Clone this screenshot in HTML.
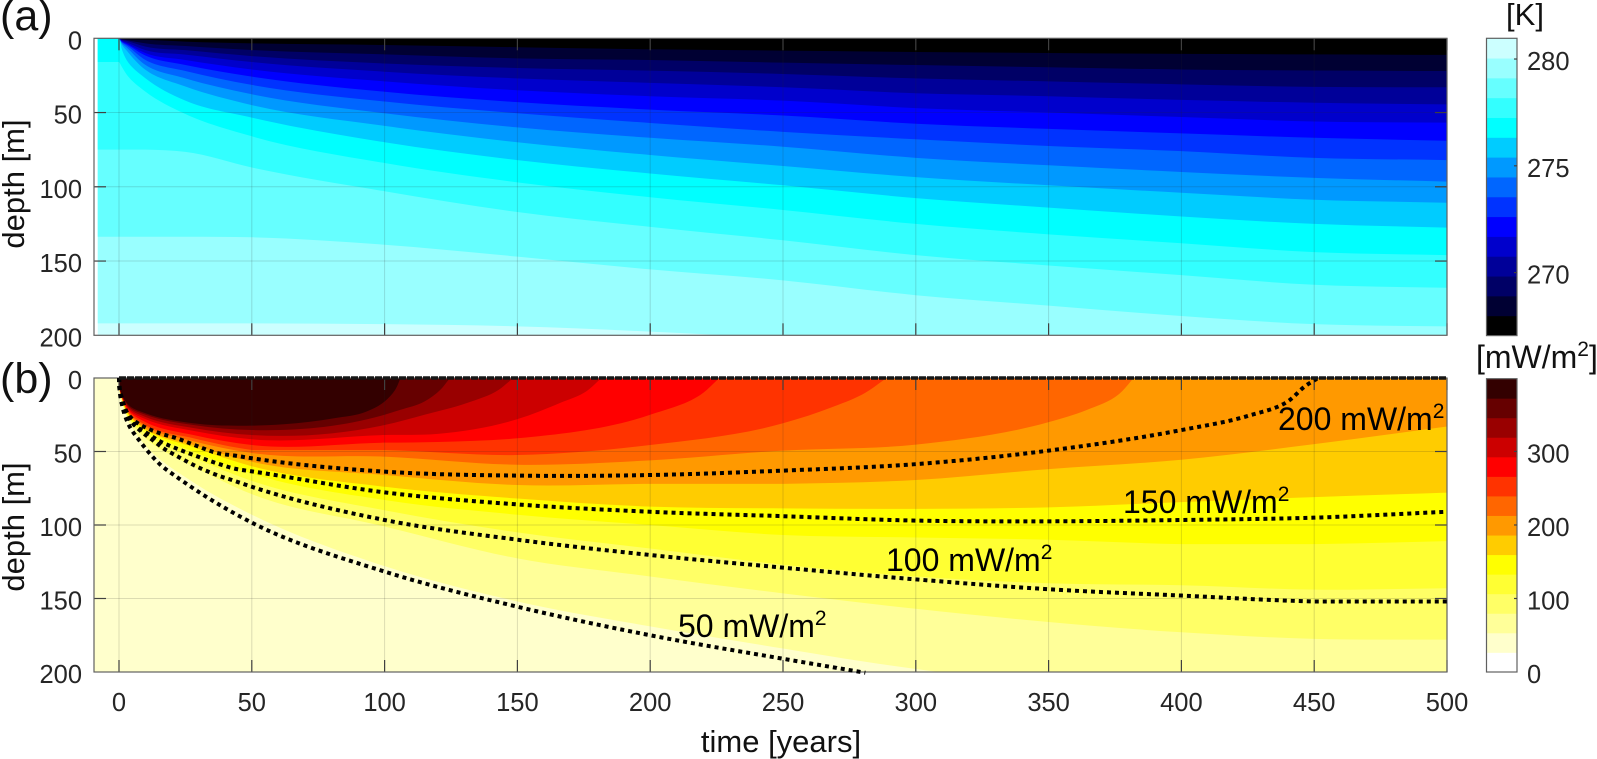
<!DOCTYPE html>
<html lang="en">
<head>
<meta charset="utf-8">
<title>Temperature and heat flux versus time and depth</title>
<style>
html,body{margin:0;padding:0;background:#fff;width:1597px;height:759px;overflow:hidden}
svg{display:block}
text{font-family:"Liberation Sans",Arial,sans-serif}
</style>
</head>
<body>
<svg id="figure" xmlns="http://www.w3.org/2000/svg" width="1597" height="759" viewBox="0 0 1597 759">
<defs>
<clipPath id="clip-a"><rect x="94" y="38.3" width="1353" height="297"/></clipPath>
<clipPath id="clip-b"><rect x="94" y="378" width="1353" height="294"/></clipPath>
</defs>
<g id="layer-a"></g>
<g id="layer-b"></g>
<g id="layer-cb"></g>
<text x="0" y="30" font-size="43" fill="#111">(a)</text>
<text x="0" y="393" font-size="43" fill="#111">(b)</text>
<text transform="translate(24,184) rotate(-90)" text-anchor="middle" font-size="31" fill="#111">depth [m]</text>
<text transform="translate(24,527) rotate(-90)" text-anchor="middle" font-size="31" fill="#111">depth [m]</text>
<text x="781" y="752" text-anchor="middle" font-size="31" fill="#111">time [years]</text>
<text x="1525" y="25" text-anchor="middle" font-size="31" fill="#111">[K]</text>
<text x="1476" y="368" font-size="32" fill="#111">[mW/m<tspan dy="-12" font-size="21">2</tspan><tspan dy="12">]</tspan></text>
<text x="678" y="637" font-size="32" fill="#000">50 mW/m<tspan dy="-12" font-size="21">2</tspan></text>
<text x="886" y="571" font-size="32" fill="#000">100 mW/m<tspan dy="-12" font-size="21">2</tspan></text>
<text x="1123" y="513" font-size="32" fill="#000">150 mW/m<tspan dy="-12" font-size="21">2</tspan></text>
<text x="1278" y="430" font-size="32" fill="#000">200 mW/m<tspan dy="-12" font-size="21">2</tspan></text>
</svg>
<script>
// ---- axis ticks ----
const xTicks = [0, 50, 100, 150, 200, 250, 300, 350, 400, 450, 500];
const yTicks = [0, 50, 100, 150, 200];
const tempBarTicks = [270, 275, 280];
const fluxBarTicks = [0, 100, 200, 300];
const tempBarLimits = [267.05, 280.97];
const fluxBarLimits = [0, 399];

// ---- panel (a): temperature band colours, warmest to coldest ----
const tempBandColors = ['#99ffff', '#66ffff', '#33ffff', '#00ffff', '#00ccff', '#0099ff', '#0066ff', '#0033ff', '#0000ff', '#0000cc', '#000099', '#000066', '#000033', '#000000'];
const tempBaseColor = '#ccffff';
const tempYears = [-8, 0, 1, 3, 10, 25, 50, 100, 150, 200, 250, 300, 350, 400, 450, 500];
// lower-edge depth (m) of each band above, at each year in tempYears
const tempDepths = [
  [192, 192, 192, 192, 192, 192, 192, 192.5, 194, 197.5, 202, 207, 212, 217, 222, 226],
  [133.6, 133.6, 133.6, 133.6, 133.6, 133.6, 134, 139, 147, 155.6, 163, 173, 180, 187, 192.5, 194],
  [75, 75, 75, 75, 75, 76.5, 87, 103, 117, 127, 136, 146, 153, 159.5, 166, 168],
  [16, 16, 19, 24.7, 36, 51, 66, 84, 97, 107, 115.6, 125, 132, 138, 144, 146],
  [0, 0, 7, 15, 27, 42, 53.4, 70, 82, 91, 99, 107.6, 114, 120, 125, 127.5],
  [0, 0, 4, 8.5, 21.3, 32.5, 45, 59, 70, 78.6, 86, 93.5, 99, 104, 108.7, 110.7],
  [0, 0, 3.2, 6.4, 18, 27, 37.7, 50.5, 60, 67, 73, 80.5, 85.5, 90, 94, 96.5],
  [0, 0, 2.6, 5, 14.6, 22, 31.4, 42.6, 50.5, 57, 63, 68, 72.5, 76, 80.5, 82],
  [0, 0, 2.2, 4.2, 11.7, 18, 25.8, 36, 43, 48, 52, 57.5, 61, 64, 67, 69],
  [0, 0, 1.8, 3.6, 10, 14.6, 21, 29, 35, 39, 42, 47, 50, 53, 56, 56.8],
  [0, 0, 1.4, 2.8, 8, 11, 16, 22.5, 27, 30, 33, 37, 39, 41.5, 43.4, 44.5],
  [0, 0, 1, 1.8, 5.6, 8, 12, 17, 20, 21.8, 24, 27, 29, 31, 32.7, 33],
  [0, 0, 0.6, 1.2, 3.4, 5.2, 7.9, 10.8, 13.5, 14.6, 16.4, 18, 19.5, 21, 21.7, 22],
  [0, 0, 0.3, 0.6, 1, 2.2, 3.4, 4.5, 6, 7.4, 8.3, 9.2, 9.9, 10.5, 10.8, 11.2]
];
const tempBarColors = ['#000000', '#000033', '#000066', '#000099', '#0000cc', '#0000ff', '#0033ff', '#0066ff', '#0099ff', '#00ccff', '#00ffff', '#33ffff', '#66ffff', '#99ffff', '#ccffff'];

// ---- panel (b): heat flux band colours, weakest to strongest ----
const fluxBaseColor = '#ffffcc';
const fluxBandColors = ['#ffff99', '#ffff66', '#ffff33', '#ffff00', '#ffcc00', '#ff9900', '#ff6600', '#ff3300', '#ff0000', '#cc0000', '#990000', '#660000', '#330000'];
const fluxBandYears = [
  [0, 0.3, 1, 4, 10, 28, 50, 100, 150, 200, 250, 281, 309, 500],
  [0, 0.3, 1, 4, 10, 28, 50, 100, 150, 200, 250, 300, 350, 400, 450, 500],
  [0, 0.3, 1, 4, 10, 28, 50, 100, 150, 200, 250, 300, 350, 400, 450, 500],
  [0, 0.3, 1, 4, 10, 28, 50, 100, 150, 200, 250, 300, 350, 400, 450, 500],
  [0, 0.3, 1, 4, 10, 28, 50, 100, 150, 200, 250, 300, 350, 400, 450, 500],
  [0, 0.3, 1, 4, 10, 28, 50, 100, 150, 200, 250, 300, 350, 400, 450, 500],
  [0, 0.3, 1, 4, 10, 28, 50, 100, 150, 200, 250, 300, 350, 364, 376.5, 382],
  [0, 0.3, 1, 4, 10, 28, 50, 100, 150, 200, 250, 269, 281, 289],
  [0, 0.3, 1, 4, 10, 28, 50, 100, 120, 150, 200, 220, 226],
  [0, 0.3, 1, 4, 10, 28, 50, 100, 120, 150, 166, 176, 181.6],
  [0, 0.3, 1, 4, 10, 28, 50, 100, 115, 131, 143, 148.4],
  [0, 0.3, 1, 4, 10, 28, 50, 100, 105.7, 115, 121, 124.6],
  [0, 0.3, 1, 4, 10, 28, 50, 62, 81, 93, 100, 104, 106]
];
const fluxBandDepths = [
  [0, 9, 16, 31, 46, 71, 93, 128, 152, 169, 184, 193, 200, 200],
  [0, 9, 15, 29, 41, 60, 79, 101, 122.7, 135, 146.5, 157, 166, 173, 177.5, 178],
  [0, 9, 14.5, 28, 38, 54, 70, 90, 105, 116, 127, 135, 139.6, 141, 144, 143],
  [0, 9, 14, 27, 36, 50, 65, 83, 93, 100, 106.8, 108.5, 110, 113, 113, 111],
  [0, 8.5, 13.5, 26, 35, 47, 60, 74, 82, 87.5, 88.7, 89, 88, 84.4, 81, 78],
  [0, 8.5, 13, 25.5, 34.5, 45.5, 57, 66, 72.8, 72, 72, 69.4, 62, 55.6, 45, 33],
  [0, 8.5, 13, 25, 33, 43, 51, 53.5, 59, 56, 49.4, 45.3, 30, 22, 11, 0],
  [0, 8, 12.5, 24, 32, 41, 49, 49, 52.4, 45.6, 30.8, 19.5, 10, 0],
  [0, 8, 12.5, 23, 30, 38.8, 45.6, 44, 43.5, 41, 25, 10, 0],
  [0, 8, 12, 22, 28, 36, 41.7, 38.8, 38, 28, 17, 9, 0],
  [0, 7.5, 12, 21, 26.5, 34, 38.8, 32, 25, 17, 8, 0],
  [0, 7.5, 11.5, 20, 25, 32, 35.4, 25, 21.8, 16, 8, 0],
  [0, 7, 11, 19, 24, 30.8, 32.4, 31.5, 27.4, 23, 16, 8, 0]
];
const fluxBarColors = ['#ffffff', '#ffffcc', '#ffff99', '#ffff66', '#ffff33', '#ffff00', '#ffcc00', '#ff9900', '#ff6600', '#ff3300', '#ff0000', '#cc0000', '#990000', '#660000', '#330000'];

// ---- panel (b): dotted flux contours ----
const contourNames = ['contour-50', 'contour-100', 'contour-150', 'contour-200', 'contour-surface'];
const contourYears = [
  [0, 0.5, 1.6, 4, 7.7, 11.4, 15.4, 22.3, 50, 100, 150, 200, 250, 281],
  [0, 0.3, 1, 2.9, 4.8, 9.2, 13, 16.7, 21.7, 29, 36.8, 42.5, 50, 100, 150, 200, 250, 300, 350, 400, 450, 500],
  [0, 0.3, 1, 4, 6.6, 11, 15.4, 21.7, 29, 36.8, 44.4, 50, 100, 150, 200, 250, 300, 350, 400, 450, 500],
  [0, 0.3, 1, 4, 7.3, 11, 15.4, 21.7, 29, 36.8, 44.4, 50, 100, 150, 200, 250, 300, 350, 400, 425, 440, 447, 451],
  [0, 125, 250, 375, 500]
];
const contourDepths = [
  [0, 11, 21.8, 33, 42.6, 51, 58.7, 68, 98.4, 131.7, 155.6, 175, 191, 200.5],
  [0, 9.5, 17, 24, 30, 37.6, 42.7, 47.8, 53, 60, 66, 69.4, 74, 96.6, 110, 120.4, 129, 137, 143.7, 148, 152, 152],
  [0, 9, 14, 28, 33, 38, 43, 48, 53, 58, 62, 63.5, 77.8, 86, 91, 94, 97, 97.5, 96.6, 95, 91],
  [0, 8.5, 13, 26, 31, 34.5, 37.6, 41, 46, 51, 53, 54.6, 63.7, 66.4, 66, 63, 58.6, 49.4, 35.4, 25.8, 16, 5, 0.5],
  [0, 0, 0, 0, 0]
];

// ---- axis functions ----
const SVGNS = 'http://www.w3.org/2000/svg';
const plotLeft = 94, plotRight = 1447, xZero = 119, xPerYear = (1447 - 119) / 500;
const panelA = {top: 38.3, bottom: 335.3};
const panelB = {top: 378, bottom: 672};
function xScale(year) { return xZero + year * xPerYear; }
function yScale(panel, depth) { return panel.top + depth * (panel.bottom - panel.top) / 200; }
function barScale(bar, value) { return bar.bottom - (value - bar.min) * (bar.bottom - bar.top) / (bar.max - bar.min); }

function make(tag, attrs, parent) {
  const node = document.createElementNS(SVGNS, tag);
  for (const key in attrs) node.setAttribute(key, attrs[key]);
  parent.appendChild(node);
  return node;
}

function tangentAt(points, i) {
  const prev = points[Math.max(0, i - 1)], cur = points[i], next = points[Math.min(points.length - 1, i + 1)];
  const ax = cur[0] - prev[0], ay = cur[1] - prev[1], bx = next[0] - cur[0], by = next[1] - cur[1];
  const la = Math.hypot(ax, ay), lb = Math.hypot(bx, by);
  if (la === 0 && lb === 0) return [1, 0];
  if (la === 0) return [bx / lb, by / lb];
  if (lb === 0) return [ax / la, ay / la];
  const tx = ax / la * lb + bx / lb * la, ty = ay / la * lb + by / lb * la;
  const lt = Math.hypot(tx, ty) || 1;
  return [tx / lt, ty / lt];
}

function smoothPath(points) {
  let d = 'M' + points[0][0].toFixed(2) + ' ' + points[0][1].toFixed(2);
  for (let i = 0; i < points.length - 1; i++) {
    const p1 = points[i], p2 = points[i + 1];
    if (p1[1] === p2[1]) {
      d += 'L' + p2[0].toFixed(2) + ' ' + p2[1].toFixed(2);
      continue;
    }
    const seg = Math.hypot(p2[0] - p1[0], p2[1] - p1[1]) / 3;
    const t1 = tangentAt(points, i), t2 = tangentAt(points, i + 1);
    d += 'C' + (p1[0] + t1[0] * seg).toFixed(2) + ' ' + (p1[1] + t1[1] * seg).toFixed(2) + ' ' + (p2[0] - t2[0] * seg).toFixed(2) + ' ' + (p2[1] - t2[1] * seg).toFixed(2) + ' ' + p2[0].toFixed(2) + ' ' + p2[1].toFixed(2);
  }
  return d;
}

function boundaryPoints(panel, years, depths) {
  return years.map(function (year, i) { return [xScale(year), yScale(panel, depths[i])]; });
}

function bandPath(panel, years, depths) {
  const pts = boundaryPoints(panel, years, depths);
  return smoothPath(pts) + 'L' + pts[pts.length - 1][0].toFixed(2) + ' ' + panel.top + 'L' + pts[0][0].toFixed(2) + ' ' + panel.top + 'Z';
}

function drawFrame(parent, panel, prefix) {
  const gridColor = 'rgba(38,38,38,0.16)', tickColor = '#404040';
  xTicks.forEach(function (value) {
    const x = xScale(value);
    const grid = make('line', {x1: x, x2: x, y1: panel.top, y2: panel.bottom, stroke: gridColor, 'stroke-width': 1}, parent);
    
    
    const tickBottom = make('line', {x1: x, x2: x, y1: panel.bottom, y2: panel.bottom - 12, stroke: tickColor, 'stroke-width': 1.2}, parent);
    
    
    const tickTop = make('line', {x1: x, x2: x, y1: panel.top, y2: panel.top + 12, stroke: tickColor, 'stroke-width': 1.2}, parent);
    
    
  });
  yTicks.forEach(function (value) {
    const y = yScale(panel, value);
    if (value > 0 && value < 200) {
      const grid = make('line', {x1: plotLeft, x2: plotRight, y1: y, y2: y, stroke: gridColor, 'stroke-width': 1}, parent);
      
      
      const tickLeft = make('line', {x1: plotLeft, x2: plotLeft + 12, y1: y, y2: y, stroke: tickColor, 'stroke-width': 1.2}, parent);
      
      
      const tickRight = make('line', {x1: plotRight, x2: plotRight - 12, y1: y, y2: y, stroke: tickColor, 'stroke-width': 1.2}, parent);
      
      
    }
    const label = make('text', {x: 82, y: y + 11, 'text-anchor': 'end', 'font-size': 25.5, fill: '#262626'}, parent);
    
    
    label.textContent = value;
  });
  const box = make('rect', {x: plotLeft, y: panel.top, width: plotRight - plotLeft, height: panel.bottom - panel.top, fill: 'none', stroke: '#606060', 'stroke-width': 1.2}, parent);
  
  
}

// ---- panel (a) ----
const layerA = document.getElementById('layer-a');
const groupA = make('g', {'clip-path': 'url(#clip-a)'}, layerA);
const baseA = make('rect', {x: xScale(tempYears[0]), y: panelA.top, width: plotRight - xScale(tempYears[0]), height: panelA.bottom - panelA.top, fill: tempBaseColor}, groupA);


tempBandColors.forEach(function (color, i) {
  const band = make('path', {d: bandPath(panelA, tempYears, tempDepths[i]), fill: color}, groupA);
  
  
});
drawFrame(layerA, panelA, 'panel-a');

// ---- panel (b) ----
const layerB = document.getElementById('layer-b');
const groupB = make('g', {'clip-path': 'url(#clip-b)'}, layerB);
const baseB = make('rect', {x: plotLeft, y: panelB.top, width: plotRight - plotLeft, height: panelB.bottom - panelB.top, fill: fluxBaseColor}, groupB);


fluxBandColors.forEach(function (color, i) {
  const band = make('path', {d: bandPath(panelB, fluxBandYears[i], fluxBandDepths[i]), fill: color}, groupB);
  
  
});
drawFrame(layerB, panelB, 'panel-b');
xTicks.forEach(function (value) {
  const label = make('text', {x: xScale(value), y: 711, 'text-anchor': 'middle', 'font-size': 25.5, fill: '#262626'}, layerB);
  
  
  label.textContent = value;
});
contourNames.forEach(function (name, i) {
  const isSurface = name === 'contour-surface';
  const line = make('path', {
    d: smoothPath(boundaryPoints(panelB, contourYears[i], contourDepths[i])),
    fill: 'none',
    stroke: isSurface ? '#161616' : '#000',
    'stroke-width': isSurface ? 3.6 : 4,
    'stroke-dasharray': isSurface ? '7 1' : '4 4'
  }, layerB);
  
  
});

// ---- colour bars ----
const layerCb = document.getElementById('layer-cb');
function drawColorbar(top, bottom, limits, colors, ticks, prefix) {
  const left = 1486.5, right = 1517;
  const bar = {top: top, bottom: bottom, min: limits[0], max: limits[1]};
  const step = (limits[1] - limits[0]) / colors.length;
  colors.forEach(function (color, i) {
    const y0 = barScale(bar, limits[0] + (i + 1) * step), y1 = barScale(bar, limits[0] + i * step);
    const seg = make('rect', {x: left, y: y0, width: right - left, height: y1 - y0 + 0.4, fill: color}, layerCb);
    
    
  });
  const box = make('rect', {x: left, y: top, width: right - left, height: bottom - top, fill: 'none', stroke: '#606060', 'stroke-width': 1.2}, layerCb);
  
  
  ticks.forEach(function (value) {
    const y = barScale(bar, value);
    if (value !== limits[0]) {
      const tick = make('line', {x1: right, x2: right - 3, y1: y, y2: y, stroke: '#404040', 'stroke-width': 1.2}, layerCb);
      
      
    }
    const label = make('text', {x: 1527, y: y + 11, 'font-size': 25.5, fill: '#262626'}, layerCb);
    
    
    label.textContent = value;
  });
}
drawColorbar(38.3, 335.6, tempBarLimits, tempBarColors, tempBarTicks, 'colorbar-a');
drawColorbar(378.7, 672, fluxBarLimits, fluxBarColors, fluxBarTicks, 'colorbar-b');
</script>
</body>
</html>
